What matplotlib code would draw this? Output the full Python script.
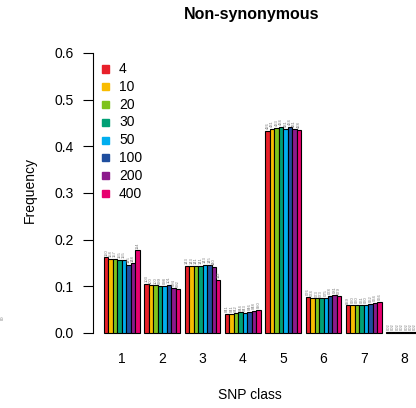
import matplotlib
matplotlib.use("Agg")
import matplotlib.pyplot as plt
import numpy as np

plt.rcParams['font.family'] = ['Liberation Sans', 'DejaVu Sans']

classes = ['1', '2', '3', '4', '5', '6', '7', '8']
sizes = ['4', '10', '20', '30', '50', '100', '200', '400']
colors = ['#E8202A', '#F9BC00', '#7FC31C', '#00A075', '#00AEEF', '#1F4E9E', '#8B1A8B', '#E7006F']

# frequency per SNP class (rows) for each sample size (columns)
freq = [
    [0.162, 0.159, 0.158, 0.156, 0.156, 0.146, 0.149, 0.177],
    [0.105, 0.102, 0.102, 0.101, 0.100, 0.103, 0.096, 0.095],
    [0.144, 0.144, 0.143, 0.143, 0.145, 0.146, 0.142, 0.114],
    [0.041, 0.041, 0.042, 0.044, 0.043, 0.046, 0.048, 0.050],
    [0.433, 0.438, 0.440, 0.441, 0.438, 0.441, 0.438, 0.435],
    [0.077, 0.075, 0.074, 0.074, 0.076, 0.079, 0.082, 0.080],
    [0.059, 0.060, 0.060, 0.061, 0.060, 0.062, 0.064, 0.066],
    [0.002, 0.002, 0.002, 0.002, 0.002, 0.002, 0.002, 0.002],
]
counts = [
    ['160', '158', '157', '155', '155', '145', '148', '114'],
    ['103', '100', '100', '099', '098', '101', '094', '092'],
    ['143', '143', '141', '141', '143', '145', '140', '112'],
    ['041', '041', '042', '044', '043', '046', '048', '050'],
    ['426', '431', '433', '434', '431', '434', '431', '428'],
    ['076', '074', '073', '073', '075', '078', '081', '079'],
    ['059', '060', '060', '061', '060', '062', '064', '066'],
    ['002', '002', '002', '002', '002', '002', '002', '002'],
]

fig = plt.figure(figsize=(4.16, 4.08), dpi=100)
ax = fig.add_axes([93 / 416, 1 - 333 / 408, 1 - 93 / 416, 280 / 408])

nb = len(sizes)
for g, row in enumerate(freq):
    for b, v in enumerate(row):
        x = 1 + g * (nb + 1) + b
        ax.bar(x, v, width=1, align='edge', color=colors[b],
               edgecolor='black', linewidth=0.8, clip_on=False)
        ax.text(x + 0.5, v + 0.004, counts[g][b], rotation=90, ha='center',
                va='bottom', fontsize=3, color='#777777', clip_on=True)

centers = [1 + g * (nb + 1) + nb / 2 for g in range(len(classes))]
for c, lab in zip(centers, classes):
    ax.text(c, -0.055, lab, ha='center', va='center', fontsize=10)

ax.set_xlim(1 - 11 / 4.48, 1 + (416 - 104) / 4.48)
ax.set_ylim(0, 0.6)
ax.set_yticks(np.arange(0, 0.61, 0.1))
ax.set_yticklabels(['0.0', '0.1', '0.2', '0.3', '0.4', '0.5', '0.6'], fontsize=10)
ax.set_xticks([])
for s in ['top', 'right', 'bottom']:
    ax.spines[s].set_visible(False)
ax.spines['left'].set_linewidth(0.8)
ax.tick_params(axis='y', length=7, width=0.8, pad=7)

fig.text(252 / 416, 1 - 15 / 408, 'Non-synonymous', ha='center', va='center',
         fontsize=11.5, fontweight='bold')
fig.text(250 / 416, 1 - 395 / 408, 'SNP class', ha='center', va='center', fontsize=10)
fig.text(30 / 416, 1 - 190 / 408, 'Frequency', ha='center', va='center',
         fontsize=10, rotation=90)

for i, (lab, col) in enumerate(zip(sizes, colors)):
    y = 1 - (69 + i * 17.8) / 408
    fig.patches.append(plt.Rectangle((102 / 416, y - 3.5 / 408), 7 / 416, 7 / 408,
                                     transform=fig.transFigure, color=col))
    fig.text(119 / 416, y, lab, ha='left', va='center', fontsize=10)

fig.text(1 / 416, 1 - 318 / 408, '00', rotation=90, ha='left', va='center',
         fontsize=3, color='#777777')

fig.savefig('out.png', dpi=100)
